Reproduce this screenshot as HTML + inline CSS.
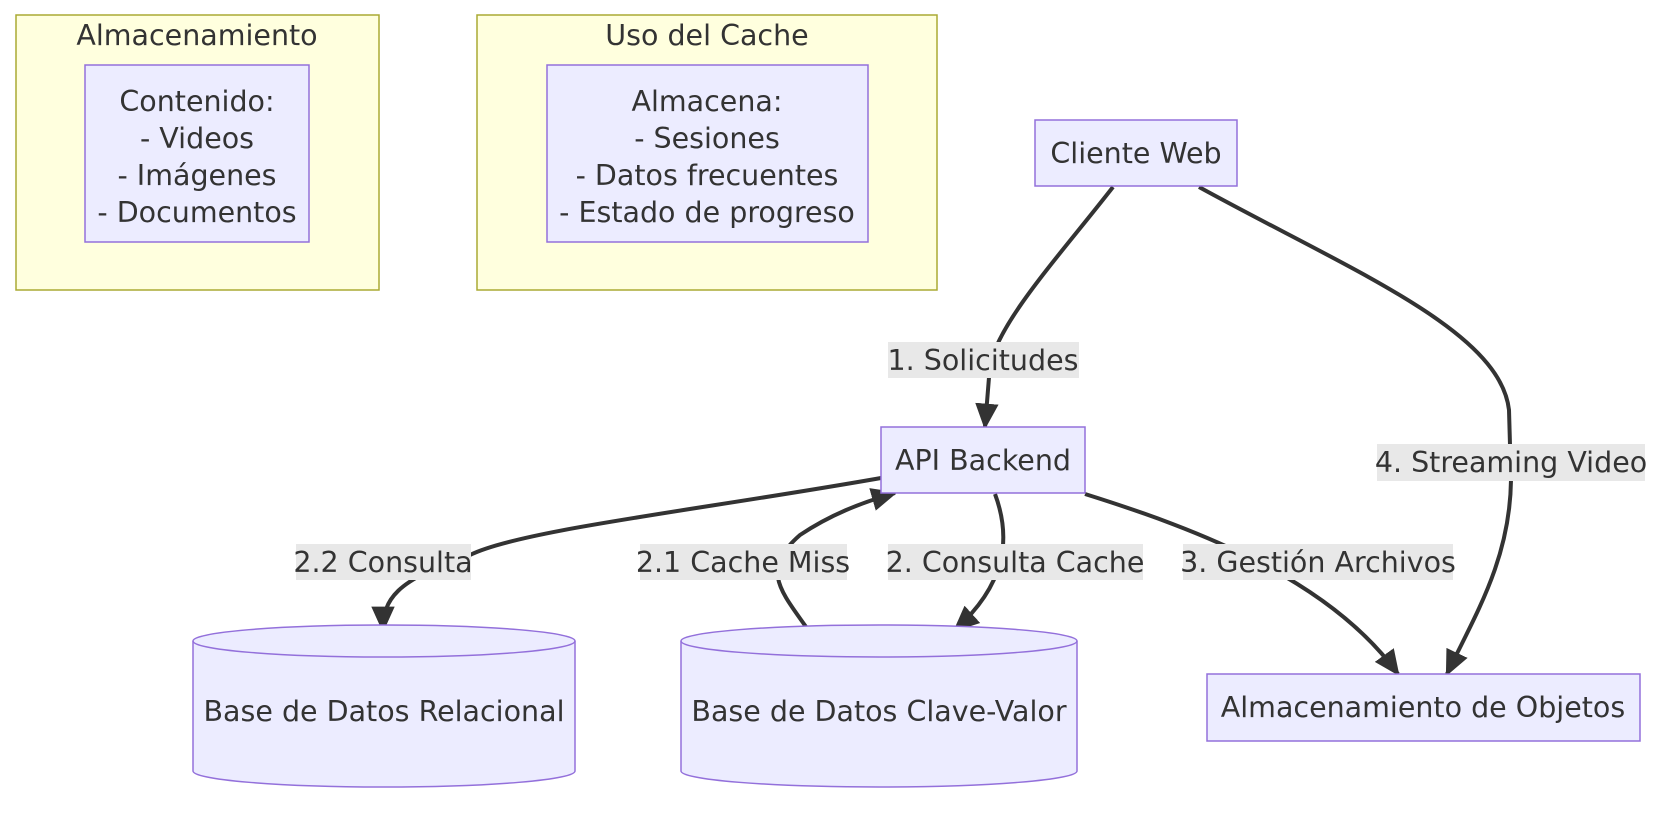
<!DOCTYPE html>
<html><head><meta charset="utf-8"><style>
html,body{margin:0;padding:0;background:#fff;}
svg text{font-family:"DejaVu Sans","Liberation Sans",sans-serif;font-size:28.5px;fill:#333;}
</style></head><body>
<svg width="1678" height="812" viewBox="0 0 1678 812" xmlns="http://www.w3.org/2000/svg">
<defs>
<marker id="b" viewBox="0 0 20 20" refX="18" refY="10" markerWidth="26" markerHeight="26" markerUnits="userSpaceOnUse" orient="auto">
<path d="M0,1 L20,10 L0,19 z" fill="#333"/>
</marker>
</defs>
<rect x="16" y="15" width="363" height="275" fill="#ffffde" stroke="#aaaa33" stroke-width="1.5"/>
<text x="197" y="45" text-anchor="middle">Almacenamiento</text>
<rect x="85" y="65" width="224" height="177" fill="#ececff" stroke="#9370db" stroke-width="1.5"/>
<text x="197" y="111" text-anchor="middle">Contenido:</text>
<text x="197" y="148" text-anchor="middle">- Videos</text>
<text x="197" y="185" text-anchor="middle">- Imágenes</text>
<text x="197" y="222" text-anchor="middle">- Documentos</text>

<rect x="477" y="15" width="460" height="275" fill="#ffffde" stroke="#aaaa33" stroke-width="1.5"/>
<text x="707" y="45" text-anchor="middle">Uso del Cache</text>
<rect x="547" y="65" width="321" height="177" fill="#ececff" stroke="#9370db" stroke-width="1.5"/>
<text x="707" y="111" text-anchor="middle">Almacena:</text>
<text x="707" y="148" text-anchor="middle">- Sesiones</text>
<text x="707" y="185" text-anchor="middle">- Datos frecuentes</text>
<text x="707" y="222" text-anchor="middle">- Estado de progreso</text>

<g fill="none" stroke="#333" stroke-width="4">
<path d="M1113,187 C1060,255 1000,320 990,365 L985,427" marker-end="url(#b)"/>
<path d="M1199,187 C1350,270 1500,330 1509,410 L1511,480 C1510,560 1475,615 1447,674" marker-end="url(#b)"/>
<path d="M881,478 C700,510 520,530 470,555 C395,580 383,600 383,630" marker-end="url(#b)"/>
<path d="M809,631 C780,590 760,570 800,535 C830,515 860,503 895,493" marker-end="url(#b)"/>
<path d="M995,494 C1012,540 1005,585 955,630" marker-end="url(#b)"/>
<path d="M1085,494 C1200,530 1330,580 1398,674" marker-end="url(#b)"/>
</g>

<rect x="1035" y="120" width="202" height="66" fill="#ececff" stroke="#9370db" stroke-width="1.5"/>
<text x="1136" y="163" text-anchor="middle">Cliente Web</text>
<rect x="881" y="427" width="204" height="66" fill="#ececff" stroke="#9370db" stroke-width="1.5"/>
<text x="983" y="470" text-anchor="middle">API Backend</text>

<path d="M193,641 A191,16 0 0 1 575,641 L575,771 A191,16 0 0 1 193,771 Z" fill="#ececff" stroke="#9370db" stroke-width="1.5"/>
<path d="M193,641 A191,16 0 0 0 575,641" fill="none" stroke="#9370db" stroke-width="1.5"/>
<text x="384" y="721" text-anchor="middle">Base de Datos Relacional</text>

<path d="M681,641 A198,16 0 0 1 1077,641 L1077,771 A198,16 0 0 1 681,771 Z" fill="#ececff" stroke="#9370db" stroke-width="1.5"/>
<path d="M681,641 A198,16 0 0 0 1077,641" fill="none" stroke="#9370db" stroke-width="1.5"/>
<text x="879" y="721" text-anchor="middle">Base de Datos Clave-Valor</text>

<rect x="1207" y="674" width="433" height="67" fill="#ececff" stroke="#9370db" stroke-width="1.5"/>
<text x="1423" y="717" text-anchor="middle">Almacenamiento de Objetos</text>

<g>
<rect x="888" y="342" width="191" height="36" fill="#e8e8e8"/>
<text x="983" y="370" text-anchor="middle">1. Solicitudes</text>
<rect x="1377" y="444" width="268" height="37" fill="#e8e8e8"/>
<text x="1511" y="472" text-anchor="middle">4. Streaming Video</text>
<rect x="296" y="544" width="175" height="36" fill="#e8e8e8"/>
<text x="383" y="572" text-anchor="middle">2.2 Consulta</text>
<rect x="640" y="544" width="207" height="36" fill="#e8e8e8"/>
<text x="743" y="572" text-anchor="middle">2.1 Cache Miss</text>
<rect x="888" y="544" width="255" height="36" fill="#e8e8e8"/>
<text x="1015" y="572" text-anchor="middle">2. Consulta Cache</text>
<rect x="1183" y="544" width="270" height="36" fill="#e8e8e8"/>
<text x="1318" y="572" text-anchor="middle">3. Gestión Archivos</text>
</g>
</svg>
</body></html>
